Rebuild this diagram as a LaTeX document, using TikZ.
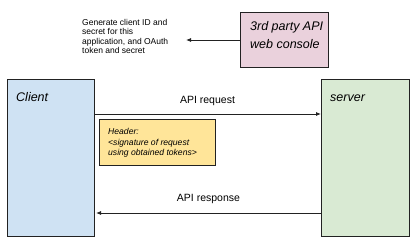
\documentclass[tikz,border=0pt]{standalone}
\usepackage{fontspec}
\setmainfont{Liberation Sans}
\usetikzlibrary{arrows.meta}
\definecolor{clientfill}{HTML}{CFE2F3}
\definecolor{serverfill}{HTML}{D9EAD3}
\definecolor{apifill}{HTML}{EAD1DC}
\definecolor{headerfill}{HTML}{FFE599}
\definecolor{edge}{HTML}{222222}
\begin{document}
\begin{tikzpicture}[x=1pt,y=-1pt,
  box/.style={draw=edge,line width=0.8pt},
  conn/.style={draw=edge,line width=0.8pt,-{Latex[length=5pt,width=4pt]}},
  lbl/.style={inner sep=0pt,anchor=base west,font=\itshape}]
\useasboundingbox (0,0) rectangle (415,244);
\path[box,fill=clientfill] (7,79) rectangle (94,236);
\coordinate (clientR1) at (94,114);
\coordinate (clientR2) at (96,213);
\path[box,fill=serverfill] (321,79) rectangle (409,236);
\coordinate (serverL1) at (321,114);
\coordinate (serverL2) at (321,213);
\node[box,fill=apifill,minimum width=88pt,minimum height=55pt,anchor=north west,inner sep=0pt] (api) at (240,12) {};
\node[inner sep=0pt,anchor=north west,align=left,font=\itshape\fontsize{12.5}{18}\selectfont] (apitext) at (250,21) {3rd party API\\web console};
\node[box,fill=headerfill,minimum width=116pt,minimum height=46pt,anchor=north west,inner sep=0pt] (hdr) at (99,119) {};
\node[inner sep=0pt,anchor=north west,align=left,font=\itshape\fontsize{8.6}{10.6}\selectfont] (hdrtext) at (108,128) {Header:\\<signature of request\\using obtained tokens>};
\node[inner sep=0pt,anchor=north west,align=left,font=\fontsize{8.5}{9.5}\selectfont] (gen) at (82,19) {Generate client ID and\\secret for this\\application, and OAuth\\token and secret};
\coordinate (genR) at (186,40);
\node[lbl,font=\itshape\fontsize{12.5}{14}\selectfont] (client) at (16,101) {Client};
\node[lbl,font=\itshape\fontsize{12.5}{14}\selectfont] (server) at (330,101) {server};
\draw[conn] (api.west|-genR) -- (genR);
\draw[conn] (clientR1) -- node[above=5pt,font=\fontsize{10.5}{12}\selectfont] (req) {API request} (serverL1);
\draw[conn] (serverL2) -- node[above=6pt,font=\fontsize{10.5}{12}\selectfont] (resp) {API response} (clientR2);
\end{tikzpicture}
\end{document}
